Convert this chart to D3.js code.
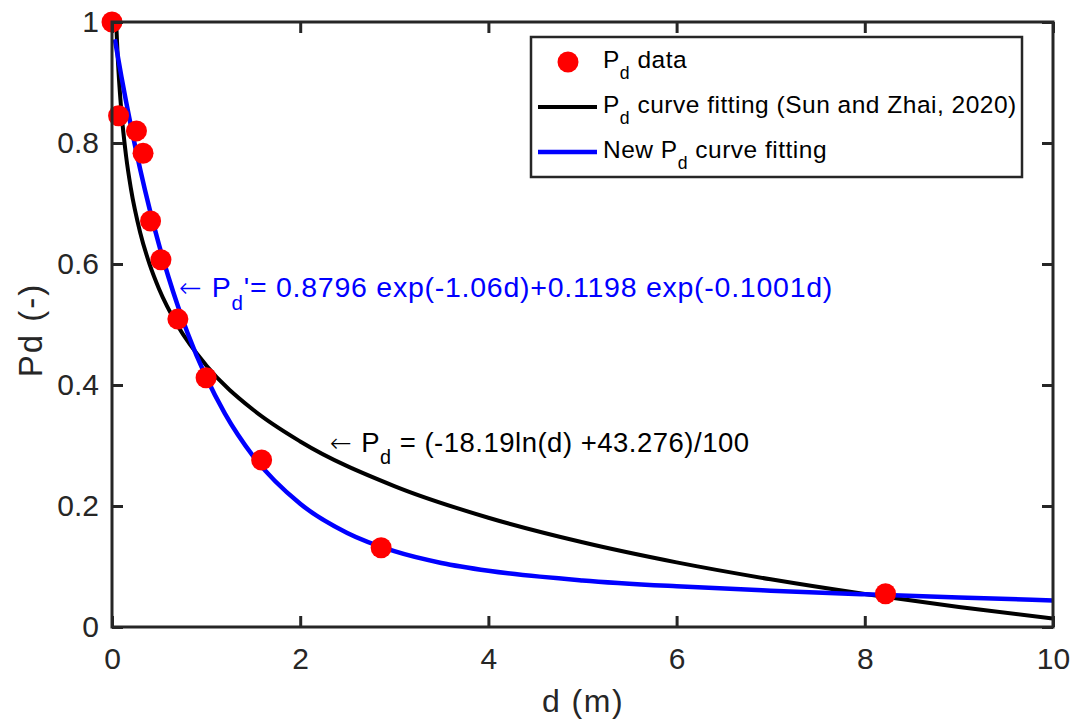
<!DOCTYPE html>
<html><head><meta charset="utf-8">
<script src="https://cdn.jsdelivr.net/npm/d3@7"></script>
<style>body{margin:0;background:#fff}text{font-family:Helvetica,Arial,"Liberation Sans",sans-serif}</style>
</head><body>
<svg id="c" width="1078" height="722"></svg>
<script>
// data points
const dataD = [0.0, 0.07, 0.26, 0.33, 0.41, 0.52, 0.70, 1.00, 1.59, 2.86, 8.22];
const dataP = [1.000, 0.845, 0.820, 0.783, 0.671, 0.607, 0.509, 0.412, 0.276, 0.131, 0.055];
// Sun and Zhai (2020) curve samples
const sunD = [0.0442, 0.06, 0.08, 0.1, 0.15, 0.2, 0.3, 0.4, 0.5, 0.7, 1.0, 1.5, 2, 3, 4, 5, 6, 7, 8, 9, 10];
const sunP = [1.000, 0.9445, 0.8922, 0.8516, 0.7779, 0.7255, 0.6518, 0.5994, 0.5588, 0.4976, 0.4328, 0.3590, 0.3067, 0.2329, 0.1806, 0.1400, 0.1068, 0.0788, 0.0545, 0.0331, 0.0139];
// New curve samples
const newD = [0.03, 0.1, 0.2, 0.3, 0.4, 0.5, 0.6, 0.7, 0.8, 1.0, 1.2, 1.5, 2.0, 2.5, 3.0, 3.5, 4.0, 5, 6, 7, 8, 9, 10];
const newP = [0.9715, 0.9097, 0.8290, 0.7563, 0.6907, 0.6317, 0.5785, 0.5306, 0.4873, 0.4132, 0.3528, 0.2825, 0.2036, 0.1554, 0.1253, 0.1059, 0.0930, 0.0770, 0.0672, 0.0600, 0.0540, 0.0487, 0.0440];
const xTicks = [0, 2, 4, 6, 8, 10];
const yTicks = [0, 0.2, 0.4, 0.6, 0.8, 1];

const svg = d3.select("#c");
const L = 112, R = 1053, T = 22, B = 627;
const x = d3.scaleLinear().domain([0, 10]).range([L, R]);
const y = d3.scaleLinear().domain([0, 1]).range([B, T]);
const axC = "#262626";

const g = svg.append("g");
const line = d3.line().x(d => x(d[0])).y(d => y(d[1])).curve(d3.curveMonotoneX);
g.append("path").datum(sunD.map((d, i) => [d, sunP[i]])).attr("d", line)
  .attr("fill", "none").attr("stroke", "#000").attr("stroke-width", 4);
g.append("path").datum(newD.map((d, i) => [d, newP[i]])).attr("d", line)
  .attr("fill", "none").attr("stroke", "#0000ff").attr("stroke-width", 4.5);
g.selectAll("circle.pt").data(dataD.map((d, i) => [d, dataP[i]])).enter().append("circle")
  .attr("cx", d => x(d[0])).attr("cy", d => y(d[1])).attr("r", 10.5).attr("fill", "#ff0000");

// axes
const ax = svg.append("g");
const tl = 11;
ax.append("g").attr("transform", `translate(0,${B})`)
  .call(d3.axisBottom(x).tickValues(xTicks).tickSize(-tl).tickFormat(d3.format("d")))
  .call(s => { s.select(".domain").remove(); s.selectAll("line").attr("stroke", axC).attr("stroke-width", 3);
    s.selectAll("text").attr("fill", axC).attr("font-size", 30).attr("dy", null).attr("y", 42); });
ax.append("g").attr("transform", `translate(0,${T})`)
  .call(d3.axisTop(x).tickValues(xTicks).tickSize(-tl).tickFormat(""))
  .call(s => { s.select(".domain").remove(); s.selectAll("line").attr("stroke", axC).attr("stroke-width", 3); });
ax.append("g").attr("transform", `translate(${L},0)`)
  .call(d3.axisLeft(y).tickValues(yTicks).tickSize(-tl).tickPadding(13).tickFormat(d => d === 0 || d === 1 ? d3.format("d")(d) : d3.format(".1f")(d)))
  .call(s => { s.select(".domain").remove(); s.selectAll("line").attr("stroke", axC).attr("stroke-width", 3);
    s.selectAll("text").attr("fill", axC).attr("font-size", 30); });
ax.append("g").attr("transform", `translate(${R},0)`)
  .call(d3.axisRight(y).tickValues(yTicks).tickSize(-tl).tickFormat(""))
  .call(s => { s.select(".domain").remove(); s.selectAll("line").attr("stroke", axC).attr("stroke-width", 3); });
ax.append("rect").attr("x", L).attr("y", T).attr("width", R - L).attr("height", B - T)
  .attr("fill", "none").attr("stroke", axC).attr("stroke-width", 3);

// axis labels
svg.append("text").attr("x", 583).attr("y", 712).attr("text-anchor", "middle")
  .attr("font-size", 32).attr("letter-spacing", 1.5).attr("fill", axC).text("d (m)");
svg.append("text").attr("transform", `translate(42,330) rotate(-90)`).attr("text-anchor", "middle")
  .attr("font-size", 33).attr("letter-spacing", 2).attr("fill", axC).text("Pd (-)");

// annotations
function sub(xx, yy, fs, col, pre, post, ls, arrow) {
  const tx = svg.append("text").attr("x", xx).attr("y", yy).attr("font-size", fs).attr("fill", col)
    .attr("letter-spacing", ls || 0);
  if (arrow) tx.append("tspan").attr("font-family", "DejaVu Sans").attr("font-weight", 200)
    .attr("font-size", fs * 0.95).text("\u2190 ");
  tx.append("tspan").text(pre);
  tx.append("tspan").attr("dy", fs * 0.45).attr("font-size", fs * 0.72).text("d");
  tx.append("tspan").attr("dy", -fs * 0.45).text(post);
  return tx;
}
sub(179, 297, 28.5, "#0000ff", "P", "'= 0.8796 exp(-1.06d)+0.1198 exp(-0.1001d)", 0.75, true);
sub(330, 452, 27.5, "#000", "P", " = (-18.19ln(d) +43.276)/100", 0.5, true);

// legend
const lg = svg.append("g");
lg.append("rect").attr("x", 531).attr("y", 37).attr("width", 491).attr("height", 140)
  .attr("fill", "#fff").attr("stroke", axC).attr("stroke-width", 2.5);
lg.append("circle").attr("cx", 568).attr("cy", 62).attr("r", 10.5).attr("fill", "#ff0000");
lg.append("line").attr("x1", 538).attr("x2", 597).attr("y1", 107).attr("y2", 107).attr("stroke", "#000").attr("stroke-width", 4);
lg.append("line").attr("x1", 538).attr("x2", 597).attr("y1", 152).attr("y2", 152).attr("stroke", "#0000ff").attr("stroke-width", 4.5);
sub(603, 68, 24.5, "#000", "P", " data", 0.5);
sub(603, 113, 24.5, "#000", "P", " curve fitting (Sun and Zhai, 2020)", 0.5);
sub(603, 158, 24.5, "#000", "New P", " curve fitting", 0.5);
</script>
</body></html>
